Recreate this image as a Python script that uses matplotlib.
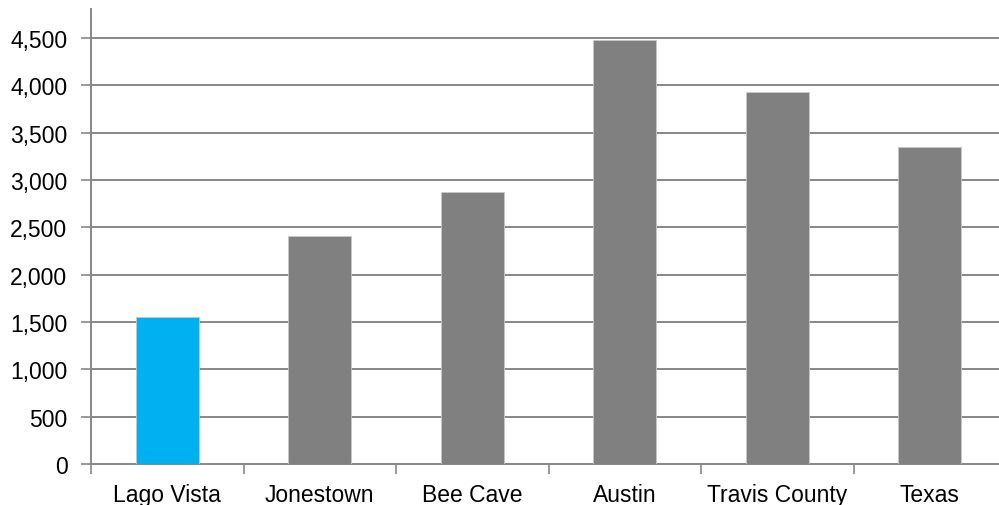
import matplotlib
matplotlib.use('Agg')
import matplotlib.pyplot as plt
import numpy as np
from matplotlib.ticker import FuncFormatter, FixedLocator

plt.rcParams['font.family'] = ['Liberation Sans', 'DejaVu Sans']

places = ['Lago Vista', 'Jonestown', 'Bee Cave', 'Austin', 'Travis County', 'Texas']
values = [1553, 2408, 2873, 4479, 3933, 3349]
colors = ['#00B0F0', '#808080', '#808080', '#808080', '#808080', '#808080']

W, H = 999, 506
fig = plt.figure(figsize=(W / 100, H / 100), dpi=100)
# axes box in pixels: left 91, bottom 465, top 10, category width 152.5
ax = fig.add_axes([91 / W, (H - 465) / H, 915 / W, 455 / H])

x = np.arange(len(places))
ax.bar(x, values, width=0.41, color=colors, edgecolor='#c8c8c8', linewidth=0.6, zorder=3)

ax.set_xlim(-0.5, len(places) - 0.5)
ax.set_ylim(0, 4806)
ax.set_yticks(np.arange(0, 4501, 500))
ax.yaxis.set_major_formatter(FuncFormatter(lambda v, p: f'{int(v):,}'))
ax.grid(axis='y', color='#878787', linewidth=1.4, zorder=0)

ax.set_xticks(x)
ax.set_xticklabels(places)
ax.xaxis.set_minor_locator(FixedLocator(np.arange(-0.5, len(places), 1.0)))
ax.tick_params(axis='x', which='major', length=0, pad=14, labelsize=16.5, colors='black')
ax.tick_params(axis='x', which='minor', length=7, width=1.2, color='#878787')
ax.tick_params(axis='y', length=7, width=1.2, color='#878787', pad=10, labelsize=16.5)

for s in ['top', 'right']:
    ax.spines[s].set_visible(False)
for s in ['left', 'bottom']:
    ax.spines[s].set_color('#878787')
    ax.spines[s].set_linewidth(1.4)

fig.savefig('out.png', dpi=100)
